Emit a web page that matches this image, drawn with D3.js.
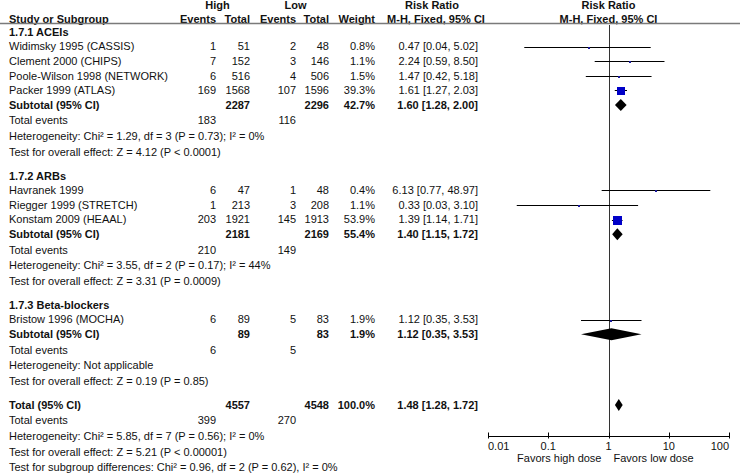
<!DOCTYPE html>
<html>
<head>
<meta charset="utf-8">
<script src="https://cdn.jsdelivr.net/npm/d3@7"></script>
<style>
  body { margin: 0; background: #fff; }
  svg text { font-family: "Liberation Sans", Arial, sans-serif; font-size: 11px; fill: #111; }
  svg text.b { font-weight: bold; }
</style>
</head>
<body>
<div id="chart"></div>
<script>
// data
var groupNames   = ['1.7.1 ACEIs', '1.7.2 ARBs', '1.7.3 Beta-blockers'];
var studyNames   = ['Widimsky 1995 (CASSIS)', 'Clement 2000 (CHIPS)', 'Poole-Wilson 1998 (NETWORK)', 'Packer 1999 (ATLAS)',
                    'Havranek 1999', 'Riegger 1999 (STRETCH)', 'Konstam 2009 (HEAAL)',
                    'Bristow 1996 (MOCHA)'];
var studyGroup   = [0, 0, 0, 0, 1, 1, 1, 2];
var highEvents   = [1, 7, 6, 169, 6, 1, 203, 6];
var highTotal    = [51, 152, 516, 1568, 47, 213, 1921, 89];
var lowEvents    = [2, 3, 4, 107, 1, 3, 145, 5];
var lowTotal     = [48, 146, 506, 1596, 48, 208, 1913, 83];
var weights      = [0.8, 1.1, 1.5, 39.3, 0.4, 1.1, 53.9, 1.9];
var ratio        = [0.47, 2.24, 1.47, 1.61, 6.13, 0.33, 1.39, 1.12];
var ratioLow     = [0.04, 0.59, 0.42, 1.27, 0.77, 0.03, 1.14, 0.35];
var ratioHigh    = [5.02, 8.50, 5.18, 2.03, 48.97, 3.10, 1.71, 3.53];

var subHighTotal = [2287, 2181, 89];
var subLowTotal  = [2296, 2169, 83];
var subHighEv    = [183, 210, 6];
var subLowEv     = [116, 149, 5];
var subWeight    = [42.7, 55.4, 1.9];
var subRatio     = [1.60, 1.40, 1.12];
var subLow       = [1.28, 1.15, 0.35];
var subHigh      = [2.00, 1.72, 3.53];
var subHetText   = ['Heterogeneity: Chi\u00b2 = 1.29, df = 3 (P = 0.73); I\u00b2 = 0%',
                    'Heterogeneity: Chi\u00b2 = 3.55, df = 2 (P = 0.17); I\u00b2 = 44%',
                    'Heterogeneity: Not applicable'];
var subTestText  = ['Test for overall effect: Z = 4.12 (P < 0.0001)',
                    'Test for overall effect: Z = 3.31 (P = 0.0009)',
                    'Test for overall effect: Z = 0.19 (P = 0.85)'];

var total        = { highTotal: 4557, lowTotal: 4548, highEv: 399, lowEv: 270, weight: 100.0, rr: 1.48, lo: 1.28, hi: 1.72 };
var totalText    = ['Heterogeneity: Chi\u00b2 = 5.85, df = 7 (P = 0.56); I\u00b2 = 0%',
                    'Test for overall effect: Z = 5.21 (P < 0.00001)',
                    'Test for subgroup differences: Chi\u00b2 = 0.96, df = 2 (P = 0.62), I\u00b2 = 0%'];

var axisTicks    = [0.01, 0.1, 1, 10, 100];
var axisLabels   = ['0.01', '0.1', '1', '10', '100'];

var W = 740, H = 473;
var svg = d3.select('#chart').append('svg').attr('width', W).attr('height', H);

// columns (right edges of numeric columns)
var col = { name: 9, hiEv: 216, hiTot: 250, loEv: 296, loTot: 329, wt: 375, rr: 478 };

// row spacing in pixels: study lines, footer lines, gap before a heading
var gap = { line: 14.6, foot: 15.6, section: 24 };

// build the row list, each row gets a cumulative offset
var rows = [];
var pos = 0;
function add(row, step) { pos += step; row.p = pos; rows.push(row); }
groupNames.forEach(function (g, gi) {
    add({ kind: 'head', g: gi }, gi === 0 ? 0 : gap.section);
    studyNames.forEach(function (s, si) {
        if (studyGroup[si] === gi) add({ kind: 'study', s: si }, gap.line);
    });
    add({ kind: 'sub', g: gi }, gap.line);
    add({ kind: 'ev', g: gi }, gap.foot);
    add({ kind: 'het', g: gi }, gap.foot);
    add({ kind: 'test', g: gi }, gap.foot);
});
add({ kind: 'total' }, gap.section);
add({ kind: 'totev' }, gap.foot);
totalText.forEach(function (t) { add({ kind: 'note', text: t }, gap.foot); });

var y = d3.scaleLinear().domain([0, 1]).range([32, 33]);
var x = d3.scaleLog().domain([0.01, 100]).range([488, 729]);

var fmt2 = d3.format('.2f');
var pct = function (v) { return d3.format('.1f')(v) + '%'; };
var ci = function (a, b, c) { return fmt2(a) + ' [' + fmt2(b) + ', ' + fmt2(c) + ']'; };

function txt(xp, yp, s, anchor, bold) {
    svg.append('text')
        .attr('x', xp).attr('y', yp).attr('dy', '0.35em')
        .attr('text-anchor', anchor || 'start')
        .attr('class', bold ? 'b' : null)
        .text(s);
}

// header
txt((185 + col.hiTot) / 2, 5, 'High', 'middle', true);
txt((262 + col.loTot) / 2, 5, 'Low', 'middle', true);
txt(432, 5, 'Risk Ratio', 'middle', true);
txt(x(1), 5, 'Risk Ratio', 'middle', true);
txt(col.name, 19, 'Study or Subgroup', 'start', true);
txt(col.hiEv, 19, 'Events', 'end', true);
txt(col.hiTot, 19, 'Total', 'end', true);
txt(col.loEv, 19, 'Events', 'end', true);
txt(col.loTot, 19, 'Total', 'end', true);
txt(col.wt, 19, 'Weight', 'end', true);
txt(436, 19, 'M-H, Fixed, 95% CI', 'middle', true);
txt(x(1), 19, 'M-H, Fixed, 95% CI', 'middle', true);

svg.append('line').attr('x1', 0).attr('x2', W).attr('y1', 23.5).attr('y2', 23.5)
    .attr('stroke', '#7a7a7a').attr('stroke-width', 1.5);

// line of no effect
var axisY = 436;
svg.append('line').attr('x1', Math.round(x(1)) + 0.5).attr('x2', Math.round(x(1)) + 0.5)
    .attr('y1', 25).attr('y2', axisY).attr('stroke', '#333').attr('stroke-width', 1);

function diamond(yc, lo, mid, hi) {
    var h = 6;
    svg.append('path')
        .attr('d', 'M' + x(lo) + ',' + yc + 'L' + x(mid) + ',' + (yc - h) + 'L' + x(hi) + ',' + yc + 'L' + x(mid) + ',' + (yc + h) + 'Z')
        .attr('fill', '#000');
}

rows.forEach(function (row) {
    var yy = y(row.p);
    if (row.kind === 'head') {
        txt(col.name, yy, groupNames[row.g], 'start', true);
    } else if (row.kind === 'study') {
        var s = row.s;
        txt(col.name, yy, studyNames[s]);
        txt(col.hiEv, yy, highEvents[s], 'end');
        txt(col.hiTot, yy, highTotal[s], 'end');
        txt(col.loEv, yy, lowEvents[s], 'end');
        txt(col.loTot, yy, lowTotal[s], 'end');
        txt(col.wt, yy, pct(weights[s]), 'end');
        txt(col.rr, yy, ci(ratio[s], ratioLow[s], ratioHigh[s]), 'end');
        var ly = Math.round(yy) + 0.5;
        svg.append('line').attr('x1', x(ratioLow[s])).attr('x2', x(ratioHigh[s]))
            .attr('y1', ly).attr('y2', ly).attr('stroke', '#000').attr('stroke-width', 1);
        // square side grows with sqrt of weight, tiny ones stay a 2px dot
        var side = Math.max(2, Math.round(1.25 * Math.sqrt(weights[s])));
        svg.append('rect')
            .attr('x', Math.round(x(ratio[s]) - side / 2)).attr('y', Math.round(ly - side / 2))
            .attr('width', side).attr('height', side)
            .attr('fill', side <= 2 ? '#1a1a9a' : '#0000c8');
    } else if (row.kind === 'sub') {
        var g = row.g;
        txt(col.name, yy, 'Subtotal (95% CI)', 'start', true);
        txt(col.hiTot, yy, subHighTotal[g], 'end', true);
        txt(col.loTot, yy, subLowTotal[g], 'end', true);
        txt(col.wt, yy, pct(subWeight[g]), 'end', true);
        txt(col.rr, yy, ci(subRatio[g], subLow[g], subHigh[g]), 'end', true);
        diamond(yy, subLow[g], subRatio[g], subHigh[g]);
    } else if (row.kind === 'ev') {
        txt(col.name, yy, 'Total events');
        txt(col.hiEv, yy, subHighEv[row.g], 'end');
        txt(col.loEv, yy, subLowEv[row.g], 'end');
    } else if (row.kind === 'het') {
        txt(col.name, yy, subHetText[row.g]);
    } else if (row.kind === 'test') {
        txt(col.name, yy, subTestText[row.g]);
    } else if (row.kind === 'total') {
        txt(col.name, yy, 'Total (95% CI)', 'start', true);
        txt(col.hiTot, yy, total.highTotal, 'end', true);
        txt(col.loTot, yy, total.lowTotal, 'end', true);
        txt(col.wt, yy, pct(total.weight), 'end', true);
        txt(col.rr, yy, ci(total.rr, total.lo, total.hi), 'end', true);
        diamond(yy, total.lo, total.rr, total.hi);
    } else if (row.kind === 'totev') {
        txt(col.name, yy, 'Total events');
        txt(col.hiEv, yy, total.highEv, 'end');
        txt(col.loEv, yy, total.lowEv, 'end');
    } else if (row.kind === 'note') {
        txt(col.name, yy, row.text);
    }
});

// axis
var axis = svg.append('g').attr('transform', 'translate(0,' + (axisY + 0.5) + ')');
axis.append('line').attr('x1', x(0.01)).attr('x2', x(100)).attr('stroke', '#000');
axis.selectAll('line.tick').data(axisTicks).enter().append('line')
    .attr('class', 'tick')
    .attr('x1', function (d) { return Math.round(x(d)) + 0.5; })
    .attr('x2', function (d) { return Math.round(x(d)) + 0.5; })
    .attr('y1', -4).attr('y2', 2).attr('stroke', '#000');
axis.selectAll('text').data(axisTicks).enter().append('text')
    .attr('x', function (d) { return x(d); })
    .attr('y', 10).attr('dy', '0.35em')
    .attr('text-anchor', function (d, i) { return i === 0 ? 'start' : (i === axisTicks.length - 1 ? 'end' : 'middle'); })
    .text(function (d, i) { return axisLabels[i]; });
txt(x(1) - 7, 458, 'Favors high dose', 'end');
txt(x(1) + 5, 458, 'Favors low dose', 'start');
</script>
</body>
</html>
